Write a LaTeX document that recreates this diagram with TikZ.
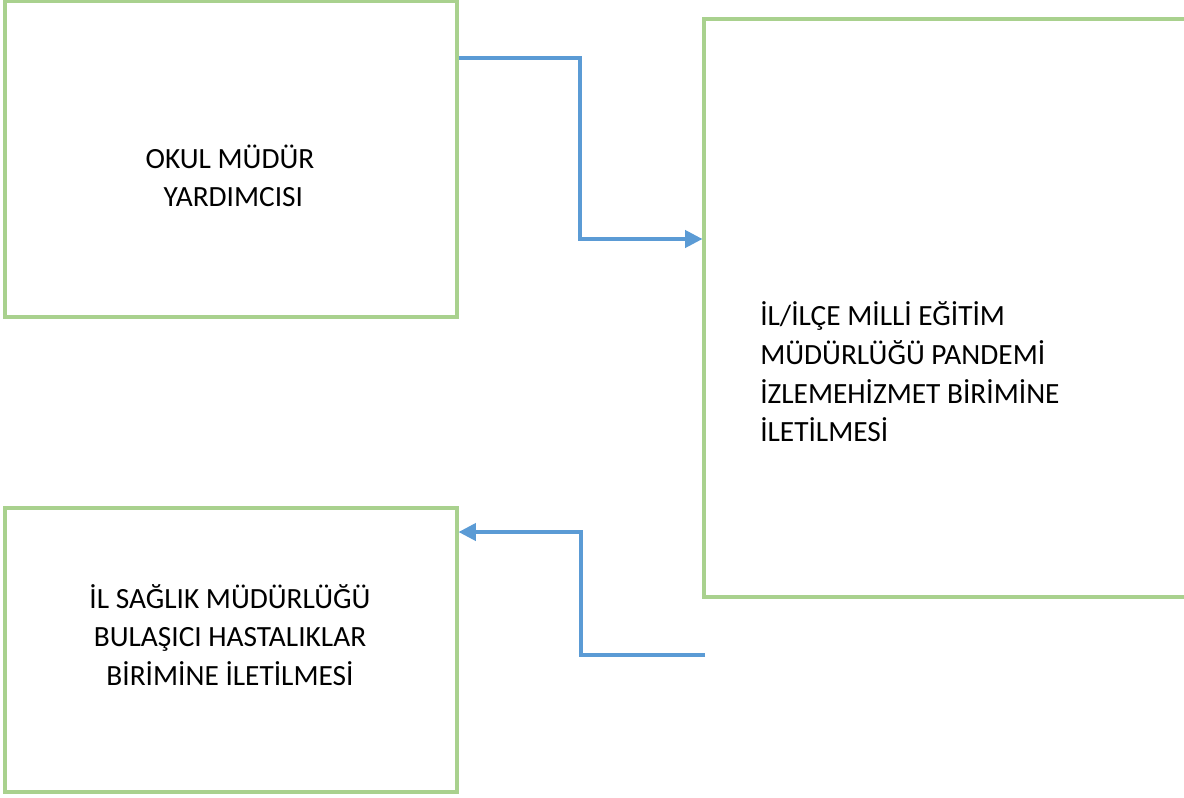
\documentclass[tikz,border=0pt]{standalone}
\usepackage{fontspec}
\setmainfont{Carlito}
\usepackage{tikz}
\usetikzlibrary{positioning,arrows.meta,calc,fit}
\definecolor{cBox}{HTML}{A9D18E}
\definecolor{cLink}{HTML}{5B9BD5}
\tikzset{
  box/.style ={draw=cBox, line width=2.4pt, inner sep=0pt, fill=none},
  txt/.style ={font=\fontsize{22}{29}\selectfont, text=black, inner sep=0pt},
  link/.style={-{Triangle[length=13pt,width=13pt]}, line width=2.4pt, draw=cLink},
}

\begin{document}
\begin{tikzpicture}[x=0.75pt, y=-0.75pt]
  \useasboundingbox (0,0) rectangle (1184,797);

  % ---- boxes ----
  \node[box, fit={(5,1) (457,317)}] (okul) {};
  \node[box, fit={(704,19) (1195,597)}] (ilce) {};
  \node[box, fit={(5,508) (457,792)}] (saglik) {};

  % ---- texts ----
  \node[txt, align=center] (okulT) at (230,176)
    {OKUL MÜDÜR\\\hspace*{0.23em}YARDIMCISI};
  \node[txt, align=left, anchor=west] (ilceT) at (760,372)
    {İL/İLÇE MİLLİ EĞİTİM\\MÜDÜRLÜĞÜ PANDEMİ\\İZLEMEHİZMET BİRİMİNE\\İLETİLMESİ};
  \node[txt, align=center] (saglikT) at (230,635)
    {İL SAĞLIK MÜDÜRLÜĞÜ\\BULAŞICI HASTALIKLAR\\BİRİMİNE İLETİLMESİ};

  % ---- connectors ----
  \draw[link] (okul.east |- 0,58) -- (580,58) |- (ilce.west |- 0,239);
  \coordinate (back) at (705,655);
  \draw[link] (back) -| (581,532) -- (saglik.east |- 0,532);

\end{tikzpicture}
\end{document}
